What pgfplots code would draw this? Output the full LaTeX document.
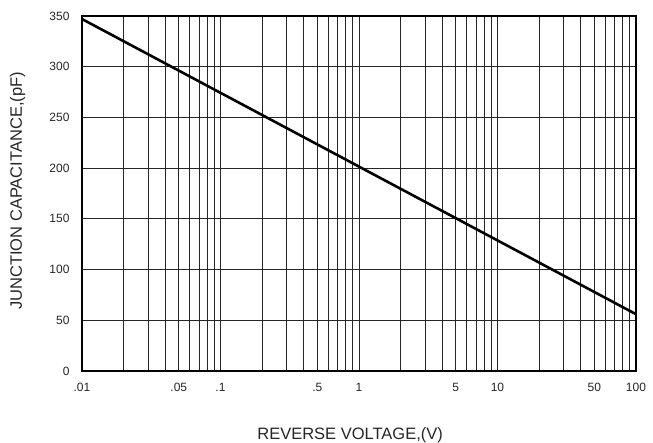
\documentclass[border=0pt]{standalone}
\usepackage{pgfplots}
\pgfplotsset{compat=1.18}
\usepackage{fontspec}
\setmainfont{Liberation Sans}
\begin{document}
\begin{tikzpicture}[x=1pt,y=1pt]
\begin{axis}[
  scale only axis,
  width=554pt, height=355pt,
  xmode=log, log basis x=10,
  xmin=0.01, xmax=100,
  ymin=0, ymax=350,
  xtick={0.01,0.05,0.1,0.5,1,5,10,50,100},
  xticklabels={.01,.05,.1,.5,1,5,10,50,100},
  minor xtick={0.02,0.03,0.04,0.06,0.07,0.08,0.09,0.2,0.3,0.4,0.6,0.7,0.8,0.9,2,3,4,6,7,8,9,20,30,40,60,70,80,90},
  ytick={0,50,...,350},
  xmajorgrids, xminorgrids, ymajorgrids,
  grid style={black!85, line width=0.9pt},
  minor grid style={black!85, line width=0.9pt},
  major tick length=0pt, minor tick length=0pt,
  axis line style={black, line width=1.2pt},
  tick label style={font=\fontsize{12}{14}\selectfont, text=black!85},
  /pgf/number format/assume math mode=true,
  xticklabel style={yshift=-9pt},
  yticklabel style={xshift=-9pt},
  xlabel={REVERSE VOLTAGE,(V)},
  ylabel={JUNCTION CAPACITANCE,(pF)},
  label style={font=\fontsize{16.5}{18}\selectfont, text=black!85},
  xlabel style={at={(axis description cs:0.484,-0.180)}, anchor=center},
  ylabel style={at={(axis description cs:-0.116,0.507)}, anchor=center},
  clip=false,
]
\addplot[black, line width=2.6pt] coordinates {(0.01,347) (100,56)};
\end{axis}
\pgfresetboundingbox
\path (current axis.south west) ++(-82pt,-72pt) rectangle ++(653pt,443pt);
\end{tikzpicture}
\end{document}
